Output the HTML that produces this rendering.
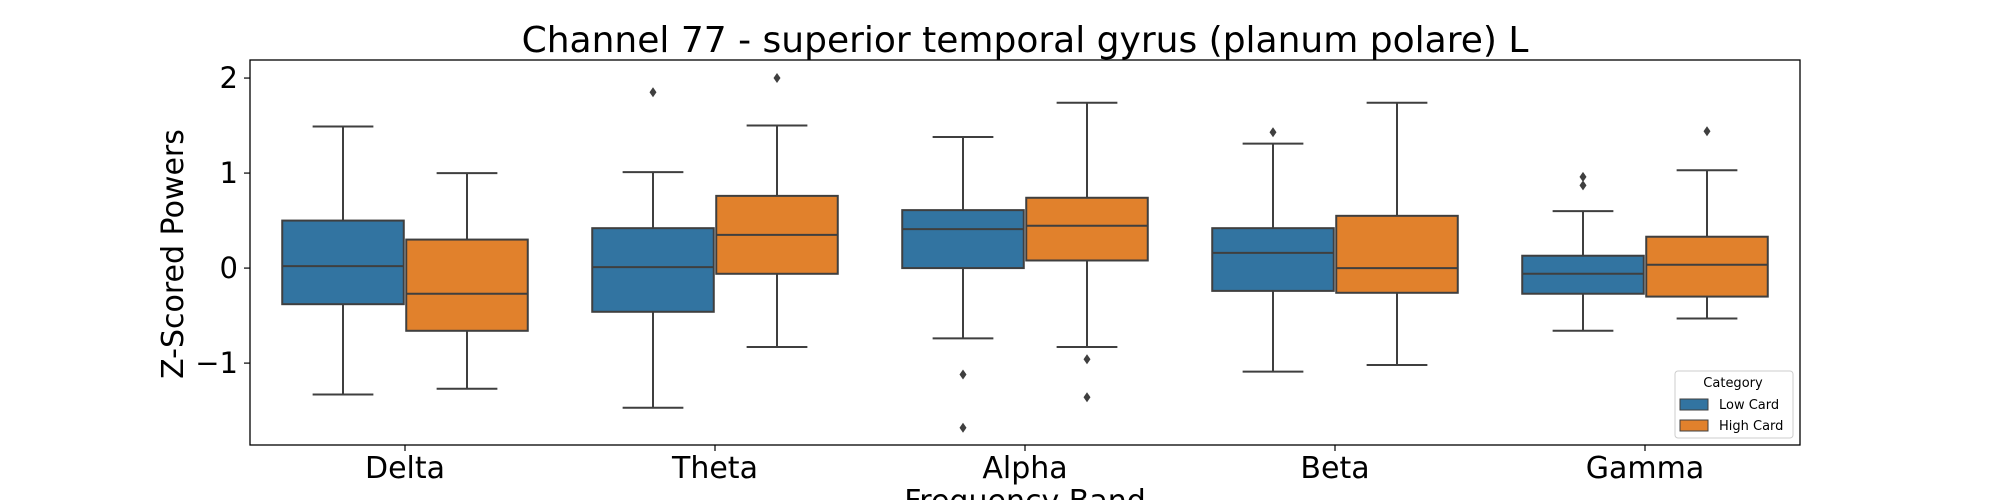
<!DOCTYPE html>
<html><head><meta charset="utf-8"><style>
html,body{margin:0;padding:0;background:#fff;}
svg{display:block;font-family:"DejaVu Sans","Liberation Sans",sans-serif;}
</style></head><body>
<svg id="chart" width="2000" height="500" viewBox="0 0 2000 500" xmlns="http://www.w3.org/2000/svg">
<rect x="0" y="0" width="2000" height="500" fill="#fff"/>
<text x="1025" y="52" font-size="36" text-anchor="middle" fill="#000">Channel 77 - superior temporal gyrus (planum polare) L</text>
<g id="plot"></g>
<rect x="250" y="60" width="1550" height="385" fill="none" stroke="#000" stroke-width="1.3"/>
<text transform="translate(183,254) rotate(-90)" font-size="30" text-anchor="middle" fill="#000">Z-Scored Powers</text>
<text x="1025" y="511" font-size="30" text-anchor="middle" fill="#000">Frequency Band</text>
<g>
<rect x="1675" y="371" width="118" height="67" rx="3" fill="#fff" fill-opacity="0.8" stroke="#ccc" stroke-width="1"/>
<text x="1733" y="387" font-size="13" text-anchor="middle" fill="#000">Category</text>
<rect x="1680" y="399" width="28" height="11" fill="#3274a1" stroke="#3f3f3f" stroke-width="1"/>
<text x="1719" y="409" font-size="13" fill="#000">Low Card</text>
<rect x="1680" y="420" width="28" height="11" fill="#e1812c" stroke="#3f3f3f" stroke-width="1"/>
<text x="1719" y="430" font-size="13" fill="#000">High Card</text>
</g>
</svg>
<script>
const categories = ["Delta","Theta","Alpha","Beta","Gamma"];
const hues = ["Low Card","High Card"];
const yTicks = [-1,0,1,2];
const yTickLabels = ["\u22121","0","1","2"];
// [whiskerLow, Q1, median, Q3, whiskerHigh] per category
const lowCardStats = [
  [-1.33,-0.38,0.02,0.50,1.49],
  [-1.47,-0.46,0.01,0.42,1.01],
  [-0.74,0.00,0.41,0.61,1.38],
  [-1.09,-0.24,0.16,0.42,1.31],
  [-0.66,-0.27,-0.06,0.13,0.60]
];
const highCardStats = [
  [-1.27,-0.66,-0.27,0.30,1.00],
  [-0.83,-0.06,0.35,0.76,1.50],
  [-0.83,0.08,0.445,0.74,1.74],
  [-1.02,-0.26,0.00,0.55,1.74],
  [-0.53,-0.30,0.035,0.33,1.03]
];
const lowCardOutliers = [[],[1.85],[-1.12,-1.68],[1.43],[0.96,0.87]];
const highCardOutliers = [[],[2.0],[-0.96,-1.36],[],[1.44]];

const NS="http://www.w3.org/2000/svg";
const L=250,R=1800,T=60,B=445;
const yMin=-1.862,yMax=2.19;
function y(v){return B-(v-yMin)/(yMax-yMin)*(B-T);}
const band=(R-L)/categories.length;
function xc(i){return L+band*(i+0.5);}
const plot=document.getElementById('plot');
const svg=document.getElementById('chart');
function mk(tag,attrs,parent){const e=document.createElementNS(NS,tag);for(const k in attrs)e.setAttribute(k,attrs[k]);(parent||plot).appendChild(e);return e;}

yTicks.forEach((t,i)=>{
  const ln=mk('line',{x1:L-6,x2:L,y1:y(t),y2:y(t),stroke:'#000','stroke-width':1.2},svg);
  
  
  const tx=mk('text',{x:L-12,y:y(t)+10,'font-size':29,'text-anchor':'end',fill:'#000'},svg);
  tx.textContent=yTickLabels[i];
  
  
});
categories.forEach((c,i)=>{
  const ln=mk('line',{x1:xc(i),x2:xc(i),y1:B,y2:B+6,stroke:'#000','stroke-width':1.2},svg);
  
  
  const tx=mk('text',{x:xc(i),y:478,'font-size':30,'text-anchor':'middle',fill:'#000'},svg);
  tx.textContent=c;
  
  
});

const colors=["#3274a1","#e1812c"];
const allStats=[lowCardStats,highCardStats];
const allOut=[lowCardOutliers,highCardOutliers];
const hw=band*0.4;
const bw=hw*0.98;
categories.forEach((c,i)=>{
  for(let h=0;h<2;h++){
    const s=allStats[h][i];
    const cx=xc(i)-band*0.2+h*hw;
    const g=mk('g',{});
    
    
    const st={stroke:'#3f3f3f','stroke-width':2};
    mk('line',Object.assign({x1:cx,x2:cx,y1:y(s[0]),y2:y(s[1])},st),g);
    mk('line',Object.assign({x1:cx,x2:cx,y1:y(s[3]),y2:y(s[4])},st),g);
    mk('line',Object.assign({x1:cx-bw/4,x2:cx+bw/4,y1:y(s[0]),y2:y(s[0])},st),g);
    mk('line',Object.assign({x1:cx-bw/4,x2:cx+bw/4,y1:y(s[4]),y2:y(s[4])},st),g);
    mk('rect',Object.assign({x:cx-bw/2,y:y(s[3]),width:bw,height:y(s[1])-y(s[3]),fill:colors[h]},st),g);
    mk('line',Object.assign({x1:cx-bw/2,x2:cx+bw/2,y1:y(s[2]),y2:y(s[2])},st),g);
    allOut[h][i].forEach(v=>{
      const yy=y(v);
      mk('polygon',{points:`${cx},${yy-5} ${cx+3.5},${yy} ${cx},${yy+5} ${cx-3.5},${yy}`,fill:'#3f3f3f'},g);
    });
  }
});
</script>
</body></html>
